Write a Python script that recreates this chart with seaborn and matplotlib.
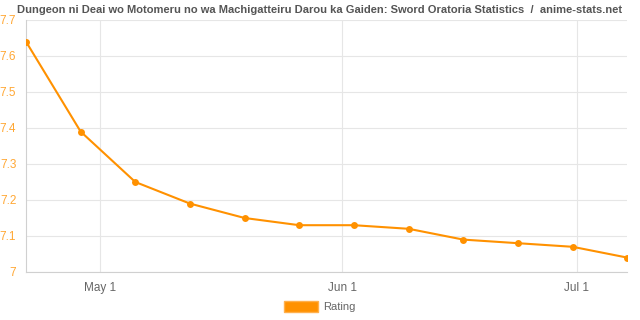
import matplotlib
matplotlib.use("Agg")
import matplotlib.pyplot as plt
from matplotlib.patches import Patch
import seaborn as sns
import pandas as pd

dates = ["2017-04-21 12:00", "2017-04-28 12:00", "2017-05-05 12:00", "2017-05-12 12:00",
         "2017-05-19 12:00", "2017-05-26 12:00", "2017-06-02 12:00", "2017-06-09 12:00",
         "2017-06-16 12:00", "2017-06-23 12:00", "2017-06-30 12:00", "2017-07-07 12:00"]
rating = [7.64, 7.39, 7.25, 7.19, 7.15, 7.13, 7.13, 7.12, 7.09, 7.08, 7.07, 7.04]
y_ticks = [7.0, 7.1, 7.2, 7.3, 7.4, 7.5, 7.6, 7.7]
y_labels = ["7", "7.1", "7.2", "7.3", "7.4", "7.5", "7.6", "7.7"]
x_ticks = ["2017-05-01", "2017-06-01", "2017-07-01"]
x_labels = ["May 1", "Jun 1", "Jul 1"]
title = "Dungeon ni Deai wo Motomeru no wa Machigatteiru Darou ka Gaiden: Sword Oratoria Statistics  /  anime-stats.net"

df = pd.DataFrame({"date": pd.to_datetime(dates), "Rating": rating})

sns.set_style("white")
plt.rcParams["font.family"] = ["Liberation Sans", "DejaVu Sans"]

orange = "#ff9100"
fig = plt.figure(figsize=(6.4, 3.2), dpi=100)
ax = fig.add_axes([0.0406, 0.15, 0.9395, 0.7875])

sns.lineplot(data=df, x="date", y="Rating", ax=ax, color=orange, linewidth=1.5,
             marker="o", markersize=5, markeredgewidth=0, legend=False, zorder=3)

ax.set_xlim(df["date"].iloc[0], df["date"].iloc[-1])
ax.set_ylim(7.0, 7.7)
ax.set_yticks(y_ticks)
ax.set_yticklabels(y_labels)
ax.set_xticks(pd.to_datetime(x_ticks))
ax.set_xticklabels(x_labels)
ax.tick_params(axis="y", colors="#ffa733", labelsize=8.5, length=5, pad=2, color="#e0e0e0")
ax.tick_params(axis="x", labelcolor="#666666", labelsize=8.5, length=5, pad=2, color="#e0e0e0")
ax.grid(True, color="#e6e6e6", linewidth=0.8)
ax.set_xlabel("")
ax.set_ylabel("")
for s in ["top", "right"]:
    ax.spines[s].set_visible(False)
for s in ["left", "bottom"]:
    ax.spines[s].set_color("#d0d0d0")
    ax.spines[s].set_linewidth(0.8)

fig.text(0.5, 0.968, title, ha="center", va="center", fontsize=8, fontweight="bold", color="#555555")

handle = Patch(facecolor=orange, edgecolor="#ffb04d", label="Rating")
fig.legend(handles=[handle], loc="center", bbox_to_anchor=(0.5, 0.041), frameon=False,
           fontsize=8, handlelength=3.0, handleheight=1.1, handletextpad=0.5, labelcolor="#666666")

fig.savefig("out.png", dpi=100)
